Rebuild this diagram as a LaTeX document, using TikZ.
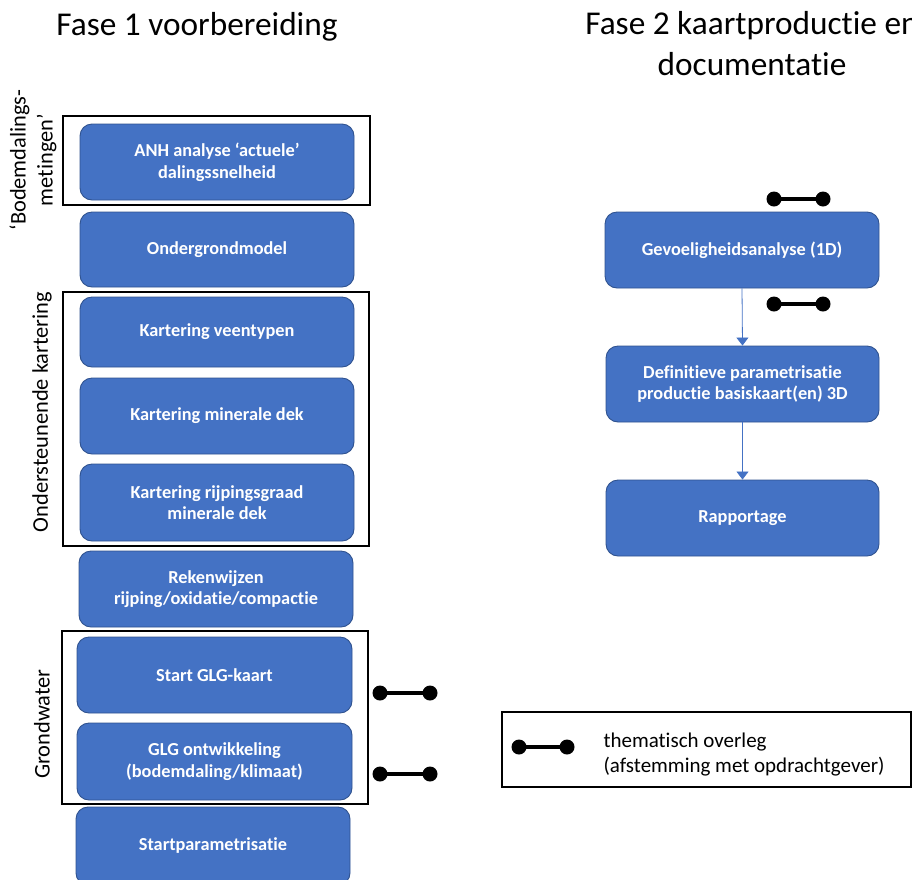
\documentclass[tikz,border=0pt]{standalone}
\usepackage{fontspec}
\setmainfont{Carlito}[Ligatures=CommonOff,Contextuals=AlternateOff]
\usetikzlibrary{arrows.meta}
\definecolor{boxblue}{HTML}{4472C4}
\definecolor{boxedge}{HTML}{2F528F}
\tikzset{
  stepbox/.style={draw=boxedge, line width=0.9pt, fill=boxblue, rounded corners=12pt,
    text=white, font=\fontsize{18.3}{21.7}\selectfont\bfseries, align=center,
    inner sep=0pt, minimum width=274pt},
  groupbox/.style={draw=black, line width=1.4pt},
  grouplabel/.style={rotate=90, font=\fontsize{22.4}{27}\selectfont, align=center},
  titlelabel/.style={font=\fontsize{33.3}{41}\selectfont, align=center},
  flow/.style={draw=boxblue, line width=0.8pt, -{Triangle[width=12pt,length=8pt]}},
  overleg/.style={line width=3.5pt, black},
  dot/.style={fill=black}
}
\begin{document}
\begin{tikzpicture}[x=1pt,y=-1pt]
\useasboundingbox (0,0) rectangle (912,879);
% titles
\node[titlelabel] (t1) at (197,27) {Fase 1 voorbereiding};
\node[titlelabel, anchor=north] (t2) at (752,8) {Fase 2 kaartproductie en\\documentatie};
% group rectangles
\draw[groupbox] (63,116) rectangle (370,205);
\draw[groupbox] (63,292) rectangle (369,546);
\draw[groupbox] (62,631) rectangle (368,804);
% group labels
\node[grouplabel] (g1) at (33,160) {‘Bodemdalings-\\metingen’};
\node[grouplabel] (g2) at (42,412) {Ondersteunende kartering};
\node[grouplabel] (g3) at (42,724) {Grondwater};
% left column boxes
\node[stepbox, minimum height=76pt] (anh) at (217,162) {ANH analyse ‘actuele’\\dalingssnelheid};
\node[stepbox, minimum height=75pt] (ond) at (217,249.5) {Ondergrondmodel};
\node[stepbox, minimum height=70pt] (vee) at (217,332) {Kartering veentypen};
\node[stepbox, minimum height=76pt] (min) at (217,416) {Kartering minerale dek};
\node[stepbox, minimum height=77pt] (rij) at (217,502.5) {Kartering rijpingsgraad\\minerale dek};
\node[stepbox, minimum height=76pt] (rek) at (216,589) {Rekenwijzen\\rijping/oxidatie/compactie};
\node[stepbox, minimum height=76pt, minimum width=275pt] (glg) at (214.5,675) {Start GLG-kaart};
\node[stepbox, minimum height=77pt, minimum width=275pt] (glgo) at (214.5,761.5) {GLG ontwikkeling\\(bodemdaling/klimaat)};
\node[stepbox, minimum height=78pt] (sp) at (213,846) {Startparametrisatie};
% right column boxes
\node[stepbox, minimum height=76pt] (gev) at (742,250) {Gevoeligheidsanalyse (1D)};
\node[stepbox, minimum height=76pt, minimum width=273pt] (def) at (742.5,384) {Definitieve parametrisatie\\productie basiskaart(en) 3D};
\node[stepbox, minimum height=76pt, minimum width=273pt] (rap) at (742.5,518) {Rapportage};
% flow arrows
\draw[flow] (gev.south) -- (def.north);
\draw[flow] (def.south) -- (rap.north);
% overleg symbols
\coordinate (o1a) at (774,199); \coordinate (o1b) at (823,199);
\coordinate (o2a) at (774,304); \coordinate (o2b) at (823,304);
\coordinate (o3a) at (380,693); \coordinate (o3b) at (430,693);
\coordinate (o4a) at (380,774); \coordinate (o4b) at (430,774);
\coordinate (o5a) at (519,747); \coordinate (o5b) at (567,747);
\foreach \p in {1,2,3,4,5}{
  \draw[overleg] (o\p a) -- (o\p b);
  \fill[dot] (o\p a) circle (7.5pt);
  \fill[dot] (o\p b) circle (7.5pt);
}
% legend
\draw[groupbox] (502,712) rectangle (911,787);
\node[anchor=west, align=left, font=\fontsize{21}{25}\selectfont] (leg) at (600,754) {thematisch overleg\\(afstemming met opdrachtgever)};
\end{tikzpicture}
\end{document}
